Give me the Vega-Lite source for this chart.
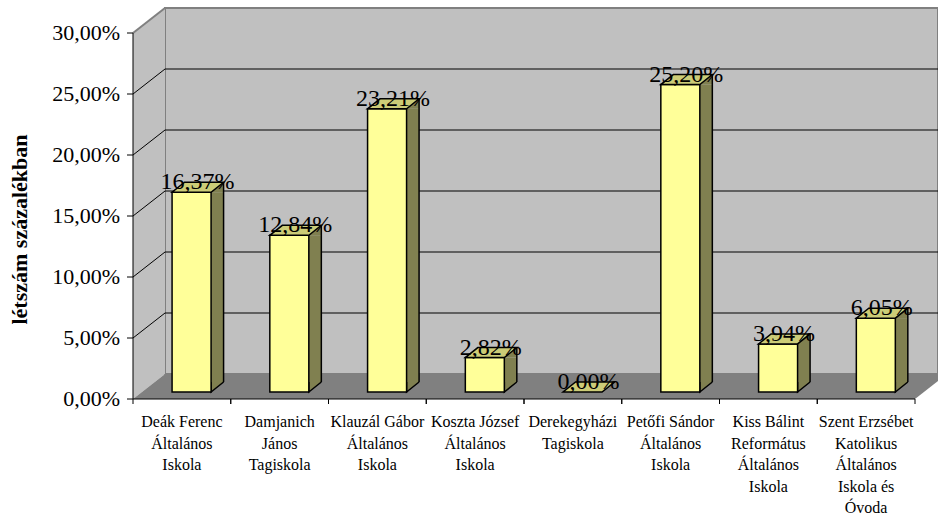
{
  "$schema": "https://vega.github.io/schema/vega-lite/v6.json",
  "width": 773,
  "height": 366,
  "autosize": "none",
  "padding": {"left": 165, "top": 8, "right": 0, "bottom": 144},
  "background": "white",
  "config": {
    "locale": {"number": {"decimal": ",", "thousands": " ", "grouping": [3], "currency": ["", " Ft"]}},
    "view": {"fill": "#c0c0c0", "stroke": "#808080", "strokeWidth": 2},
    "font": "Liberation Serif"
  },
  "datasets": {
    "iskolak": [
      {"iskola": "Deák Ferenc\nÁltalános\nIskola", "arany": 0.1637},
      {"iskola": "Damjanich\nJános\nTagiskola", "arany": 0.1284},
      {"iskola": "Klauzál Gábor\nÁltalános\nIskola", "arany": 0.2321},
      {"iskola": "Koszta József\nÁltalános\nIskola", "arany": 0.0282},
      {"iskola": "Derekegyházi\nTagiskola", "arany": 0.0},
      {"iskola": "Petőfi Sándor\nÁltalános\nIskola", "arany": 0.252},
      {"iskola": "Kiss Bálint\nReformátus\nÁltalános\nIskola", "arany": 0.0394},
      {"iskola": "Szent Erzsébet\nKatolikus\nÁltalános\nIskola és\nÓvoda", "arany": 0.0605}
    ],
    "racs": [{"t": 0}, {"t": 0.05}, {"t": 0.1}, {"t": 0.15}, {"t": 0.2}, {"t": 0.25}, {"t": 0.3}],
    "cim": [{"t": 0, "cim": "létszám százalékban"}]
  },
  "layer": [
    {
      "data": {"name": "racs"},
      "transform": [{"filter": "datum.t > 0 && datum.t < 0.3"}],
      "mark": {"type": "rule", "color": "#000", "strokeWidth": 1},
      "encoding": {
        "y": {"field": "t", "type": "quantitative", "axis": null, "scale": {"domain": [0, 0.3], "nice": false}}
      }
    },
    {
      "data": {"name": "racs"},
      "transform": [{"filter": "datum.t == 0"}],
      "mark": {"type": "point", "shape": "M -386.5 0 L -418.5 25 L -418.5 -341 L -386.5 -366 Z", "size": 4, "filled": true, "fill": "#c0c0c0", "strokeWidth": 0, "opacity": 1},
      "encoding": {"y": {"field": "t", "type": "quantitative", "axis": null}}
    },
    {
      "data": {"name": "racs"},
      "transform": [{"filter": "datum.t == 0"}],
      "mark": {"type": "point", "shape": "M -418.5 -341 L -386.5 -366", "size": 4, "filled": false, "stroke": "#808080", "strokeWidth": 2, "opacity": 1},
      "encoding": {"y": {"field": "t", "type": "quantitative", "axis": null}}
    },
    {
      "data": {"name": "racs"},
      "transform": [{"filter": "datum.t == 0"}],
      "mark": {"type": "point", "shape": "M -418.5 25 L 363.5 25 L 395.5 0 L -386.5 0 Z", "size": 4, "filled": true, "fill": "#808080", "strokeWidth": 0, "opacity": 1},
      "encoding": {"y": {"field": "t", "type": "quantitative", "axis": null}}
    },
    {
      "data": {"name": "racs"},
      "transform": [{"filter": "datum.t > 0 && datum.t < 0.3"}],
      "mark": {"type": "point", "shape": "M -418.5 25 L -386.5 0", "size": 4, "filled": false, "stroke": "#000", "strokeWidth": 1, "opacity": 1},
      "encoding": {"y": {"field": "t", "type": "quantitative", "axis": null}}
    },
    {
      "data": {"name": "racs"},
      "mark": {"type": "point", "shape": "M -424.5 25 L -418.5 25", "size": 4, "filled": false, "stroke": "#000", "strokeWidth": 1, "opacity": 1},
      "encoding": {"y": {"field": "t", "type": "quantitative", "axis": null}}
    },
    {
      "data": {"name": "racs"},
      "mark": {"type": "text", "font": "Liberation Serif", "fontSize": 22, "align": "right", "baseline": "middle", "xOffset": -431.5, "yOffset": 25, "color": "#000"},
      "encoding": {
        "y": {"field": "t", "type": "quantitative", "axis": null},
        "text": {"field": "t", "type": "quantitative", "format": ".2%"}
      }
    },
    {
      "data": {"name": "cim"},
      "mark": {"type": "text", "font": "Liberation Serif", "fontSize": 22, "fontWeight": "bold", "angle": 270, "align": "center", "baseline": "alphabetic", "xOffset": -524.5, "yOffset": -144.5, "color": "#000"},
      "encoding": {
        "y": {"field": "t", "type": "quantitative", "axis": null},
        "text": {"field": "cim", "type": "nominal"}
      }
    },
    {
      "data": {"name": "iskolak"},
      "transform": [{"filter": "datum.arany > 0"}],
      "mark": {"type": "bar", "width": 12.5, "xOffset": 3.45, "yOffset": 18, "y2Offset": 8, "fill": "#808050", "strokeWidth": 0},
      "encoding": {
        "x": {"field": "iskola", "type": "nominal", "sort": null, "axis": null},
        "y": {"field": "arany", "type": "quantitative", "stack": null, "axis": null},
        "y2": {"datum": 0}
      }
    },
    {
      "data": {"name": "iskolak"},
      "transform": [{"filter": "datum.arany > 0"}],
      "mark": {"type": "point", "shape": "M -2.8 18 L 9.7 8 L 9.7 18 Z", "size": 4, "filled": true, "fill": "#808050", "strokeWidth": 0, "opacity": 1},
      "encoding": {
        "x": {"field": "iskola", "type": "nominal", "sort": null, "axis": null},
        "y": {"field": "arany", "type": "quantitative", "axis": null}
      }
    },
    {
      "data": {"name": "iskolak"},
      "transform": [{"filter": "datum.arany > 0"}],
      "mark": {"type": "point", "shape": "M -2.8 8 L -2.8 18 L 9.7 8", "size": 4, "filled": true, "fill": "#808050", "stroke": "#000", "strokeWidth": 1.5, "opacity": 1},
      "encoding": {
        "x": {"field": "iskola", "type": "nominal", "sort": null, "axis": null},
        "y": {"datum": 0, "type": "quantitative", "axis": null}
      }
    },
    {
      "data": {"name": "iskolak"},
      "transform": [{"filter": "datum.arany > 0"}],
      "mark": {"type": "bar", "width": 39, "xOffset": -22.3, "yOffset": 18, "y2Offset": 18, "fill": "#ffff99", "stroke": "#000", "strokeWidth": 1.5},
      "encoding": {
        "x": {
          "field": "iskola", "type": "nominal", "sort": null,
          "scale": {
            "domain": [
              "Deák Ferenc\nÁltalános\nIskola",
              "Damjanich\nJános\nTagiskola",
              "Klauzál Gábor\nÁltalános\nIskola",
              "Koszta József\nÁltalános\nIskola",
              "Derekegyházi\nTagiskola",
              "Petőfi Sándor\nÁltalános\nIskola",
              "Kiss Bálint\nReformátus\nÁltalános\nIskola",
              "Szent Erzsébet\nKatolikus\nÁltalános\nIskola és\nÓvoda"
            ],
            "range": [0, 782], "paddingInner": 0, "paddingOuter": 0
          },
          "axis": null
        },
        "y": {
          "field": "arany", "type": "quantitative", "stack": null,
          "scale": {"domain": [0, 0.3], "nice": false},
          "axis": null
        },
        "y2": {"datum": 0}
      }
    },
    {
      "data": {"name": "iskolak"},
      "transform": [{"filter": "datum.arany > 0"}],
      "mark": {"type": "rule", "xOffset": 9.7, "yOffset": 8, "y2Offset": 8, "color": "#000", "strokeWidth": 1.5},
      "encoding": {
        "x": {"field": "iskola", "type": "nominal", "sort": null, "axis": null},
        "y": {"field": "arany", "type": "quantitative", "axis": null},
        "y2": {"datum": 0}
      }
    },
    {
      "data": {"name": "iskolak"},
      "mark": {"type": "point", "shape": "M -41.8 18 L -2.8 18 L 9.7 8 L -29.3 8 Z", "size": 4, "filled": true, "fill": "#cccc77", "stroke": "#000", "strokeWidth": 1.5, "opacity": 1},
      "encoding": {
        "x": {"field": "iskola", "type": "nominal", "sort": null, "axis": null},
        "y": {"field": "arany", "type": "quantitative", "axis": null}
      }
    },
    {
      "data": {"name": "racs"},
      "transform": [{"filter": "datum.t == 0"}],
      "mark": {"type": "point", "shape": "M -418.5 25 L 363.5 25 M -418.5 25 L -418.5 -341", "size": 4, "filled": false, "stroke": "#000", "strokeWidth": 1, "opacity": 1},
      "encoding": {"y": {"field": "t", "type": "quantitative", "axis": null}}
    },
    {
      "data": {"name": "iskolak"},
      "mark": {"type": "point", "shape": "M -80.875 208 L -80.875 213 M 16.875 208 L 16.875 213", "size": 4, "filled": false, "stroke": "#000", "strokeWidth": 1, "opacity": 1},
      "encoding": {
        "x": {"field": "iskola", "type": "nominal", "sort": null, "axis": null}
      }
    },
    {
      "data": {"name": "iskolak"},
      "mark": {"type": "text", "font": "Liberation Serif", "fontSize": 16, "lineBreak": "\n", "lineHeight": 21.5, "align": "center", "baseline": "top", "xOffset": -32, "yOffset": 223, "color": "#000"},
      "encoding": {
        "x": {"field": "iskola", "type": "nominal", "sort": null, "axis": null},
        "text": {"field": "iskola", "type": "nominal"}
      }
    },
    {
      "data": {"name": "iskolak"},
      "mark": {"type": "text", "font": "Liberation Serif", "fontSize": 24, "baseline": "alphabetic", "align": "center", "xOffset": -16.3, "yOffset": 15, "color": "#000"},
      "encoding": {
        "x": {"field": "iskola", "type": "nominal", "sort": null, "axis": null},
        "y": {"field": "arany", "type": "quantitative", "axis": null},
        "text": {"field": "arany", "type": "quantitative", "format": ".2%"}
      }
    }
  ]
}
